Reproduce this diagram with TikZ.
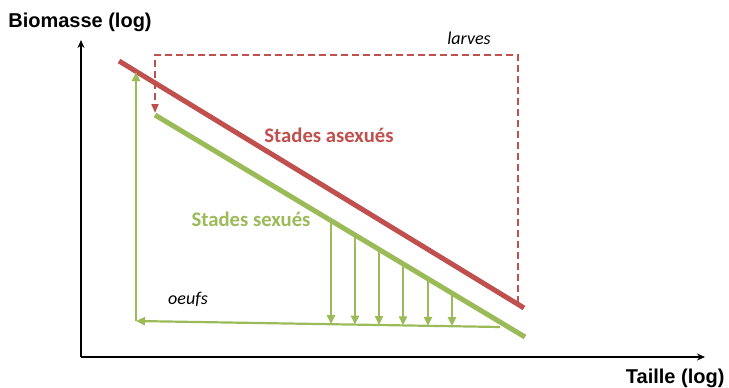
\documentclass[tikz,border=0pt]{standalone}
\usepackage{fontspec}
\setmainfont{Liberation Sans}
\newfontfamily\calib{Carlito}
\usetikzlibrary{arrows.meta}
\definecolor{rred}{RGB}{192,80,77}
\definecolor{ggreen}{RGB}{155,187,89}
\tikzset{
  axis/.style={draw=black,line width=1.5pt,-{Stealth[length=8pt,width=7pt]}},
  thickred/.style={draw=rred,line width=5pt},
  thickgreen/.style={draw=ggreen,line width=5pt},
  garrow/.style={draw=ggreen,line width=2.2pt,-{Triangle[length=9pt,width=8pt]}},
  dasharrow/.style={draw=rred,line width=2pt,dash pattern=on 7pt off 4pt,-{Triangle[length=9pt,width=7pt]}},
  axislabel/.style={font=\bfseries\fontsize{20}{24}\selectfont},
  stagelabel/.style={font=\calib\bfseries\fontsize{20.7}{24}\selectfont},
  smalllabel/.style={font=\calib\itshape\fontsize{18}{21}\selectfont},
}
\begin{document}
\begin{tikzpicture}[x=1pt,y=-1pt]
\useasboundingbox (0,0) rectangle (729,388);
% axes
\coordinate (O) at (81,357);
\coordinate (ytop) at (81,40);
\coordinate (xend) at (705,357);
\draw[axis] (O) -- (ytop);
\draw[axis] (O) -- (xend);
\node[axislabel] (ylab) at (80,22) {Biomasse (log)};
\node[axislabel,anchor=east] (xlab) at (728,378) {Taille (log)};
% red line
\coordinate (r1) at (119,61);
\coordinate (r2) at (524,308);
\draw[thickred] (r1) -- (r2);
% green line
\coordinate (g1) at (155,115);
\coordinate (g2) at (525,337);
\draw[thickgreen] (g1) -- (g2);
% dashed larves
\coordinate (d1) at (518,303);
\coordinate (d2) at (518,55);
\coordinate (d3) at (155,55);
\coordinate (d4) at (155,113);
\draw[dasharrow] (d1) -- (d2) -- (d3) -- (d4);
\node[smalllabel] (larves) at (469,38) {larves};
% oeufs return
\coordinate (e1) at (500,327);
\coordinate (e2) at (136,321);
\coordinate (e3) at (136,321);
\coordinate (e4) at (136,72);
\draw[garrow] (e1) -- (e2);
\draw[garrow] (e3) -- (e4);
\node[smalllabel] (oeufs) at (188,299) {oeufs};
% vertical arrows
\foreach \i/\x in {1/331,2/355,3/379,4/403,5/428,6/452}{
  \pgfmathsetmacro{\ytopv}{115+(\x-155)*0.6+1}
  \pgfmathsetmacro{\ybot}{327-(500-\x)*6/364}
  \coordinate (v\i a) at (\x,\ytopv);
  \coordinate (v\i b) at (\x,\ybot);
  \draw[garrow] (v\i a) -- (v\i b);
}
\node[stagelabel,text=rred] (asex) at (329,135) {Stades asexués};
\node[stagelabel,text=ggreen] (sex) at (251,219) {Stades sexués};
\end{tikzpicture}
\end{document}
